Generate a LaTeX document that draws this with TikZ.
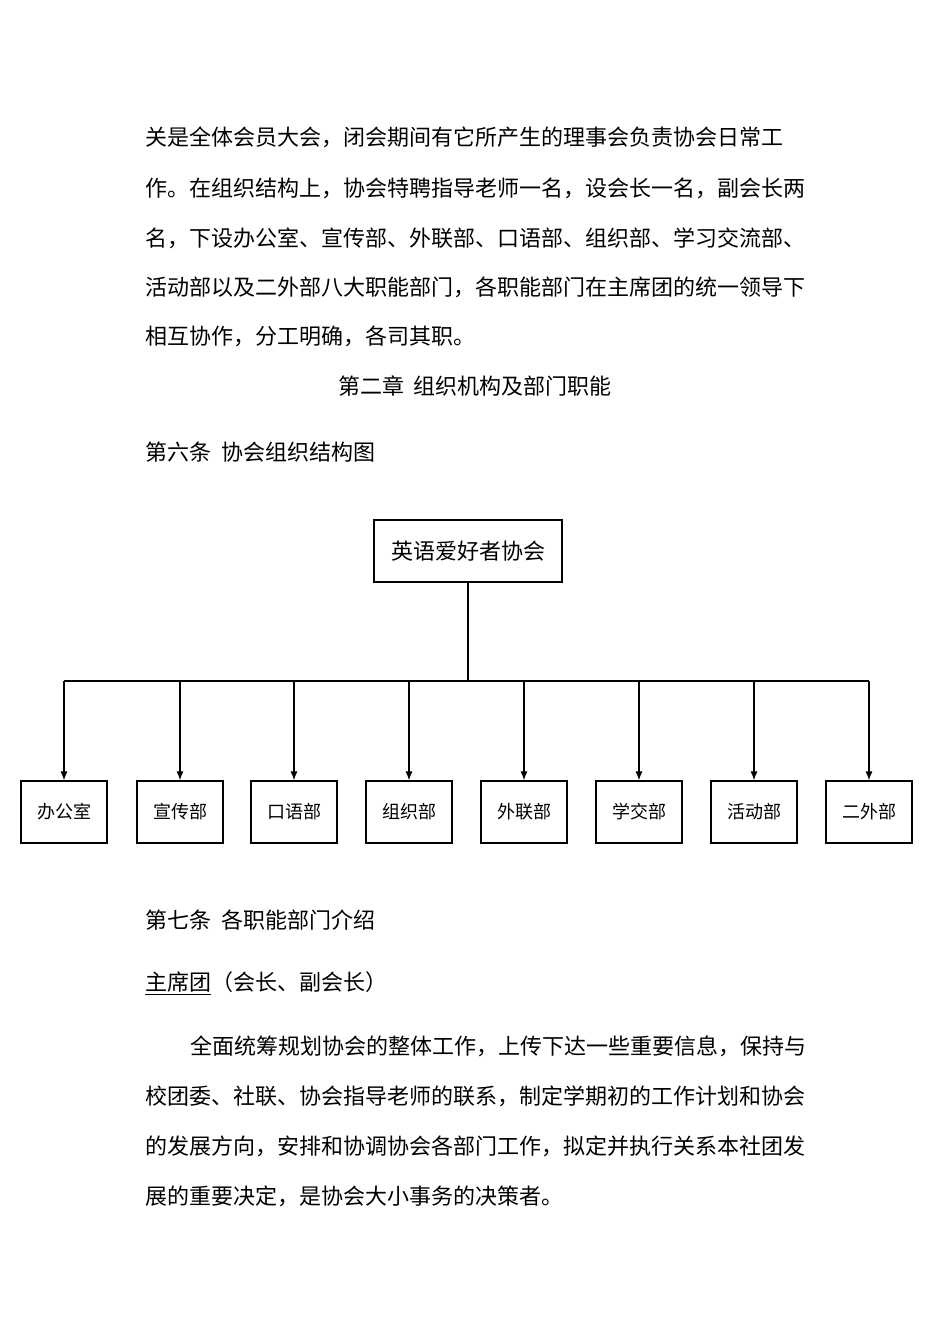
\documentclass[tikz,border=0pt]{standalone}
\usepackage{fontspec}
\setmainfont{Noto Sans CJK SC}
\usetikzlibrary{arrows.meta}
\begin{document}
\begin{tikzpicture}[x=1pt,y=-1pt,
  txt/.style={anchor=west,inner sep=0pt,font=\fontsize{22}{22}\selectfont},
  dept/.style={draw,line width=1.2pt,minimum width=86pt,minimum height=62pt,inner sep=0pt,font=\fontsize{18}{18}\selectfont},
  arr/.style={line width=1.2pt,-{Latex[length=9pt,width=7pt]}}]
\useasboundingbox[fill=white] (0,0) rectangle (950,1344);
\node[txt] (l1) at (145,137) {关是全体会员大会，闭会期间有它所产生的理事会负责协会日常工};
\node[txt] (l2) at (145,188) {作。在组织结构上，协会特聘指导老师一名，设会长一名，副会长两};
\node[txt] (l3) at (145,238) {名，下设办公室、宣传部、外联部、口语部、组织部、学习交流部、};
\node[txt] (l4) at (145,287) {活动部以及二外部八大职能部门，各职能部门在主席团的统一领导下};
\node[txt] (l5) at (145,336) {相互协作，分工明确，各司其职。};
\node[txt,anchor=center] (h1) at (475,386) {第二章\ \ 组织机构及部门职能};
\node[txt] (h2) at (145,452) {第六条\ \ 协会组织结构图};
\node[draw,line width=1.2pt,minimum width=188pt,minimum height=62pt,font=\fontsize{22}{22}\selectfont] (top) at (468,551) {英语爱好者协会};
\coordinate (j) at (468,681);
\draw[line width=1.2pt] (top.south) -- (j);
\draw[line width=1.2pt] (64,681) -- (869,681);
\foreach \n/\x/\t in {a/64/办公室,b/180/宣传部,c/294/口语部,d/409/组织部,e/524/外联部,f/639/学交部,g/754/活动部,h/869/二外部}{
  \node[dept] (\n) at (\x,812) {\t};
  \coordinate (c\n) at (\x,681);
  \draw[arr] (c\n) -- (\n.north);
}
\node[txt] (h3) at (145,920) {第七条\ \ 各职能部门介绍};
\node[txt] (h4) at (145,983) {\underline{主席团}（会长、副会长）};
\node[txt] (p1) at (190,1046) {全面统筹规划协会的整体工作，上传下达一些重要信息，保持与};
\node[txt] (p2) at (145,1096) {校团委、社联、协会指导老师的联系，制定学期初的工作计划和协会};
\node[txt] (p3) at (145,1146) {的发展方向，安排和协调协会各部门工作，拟定并执行关系本社团发};
\node[txt] (p4) at (145,1196) {展的重要决定，是协会大小事务的决策者。};
\end{tikzpicture}
\end{document}
